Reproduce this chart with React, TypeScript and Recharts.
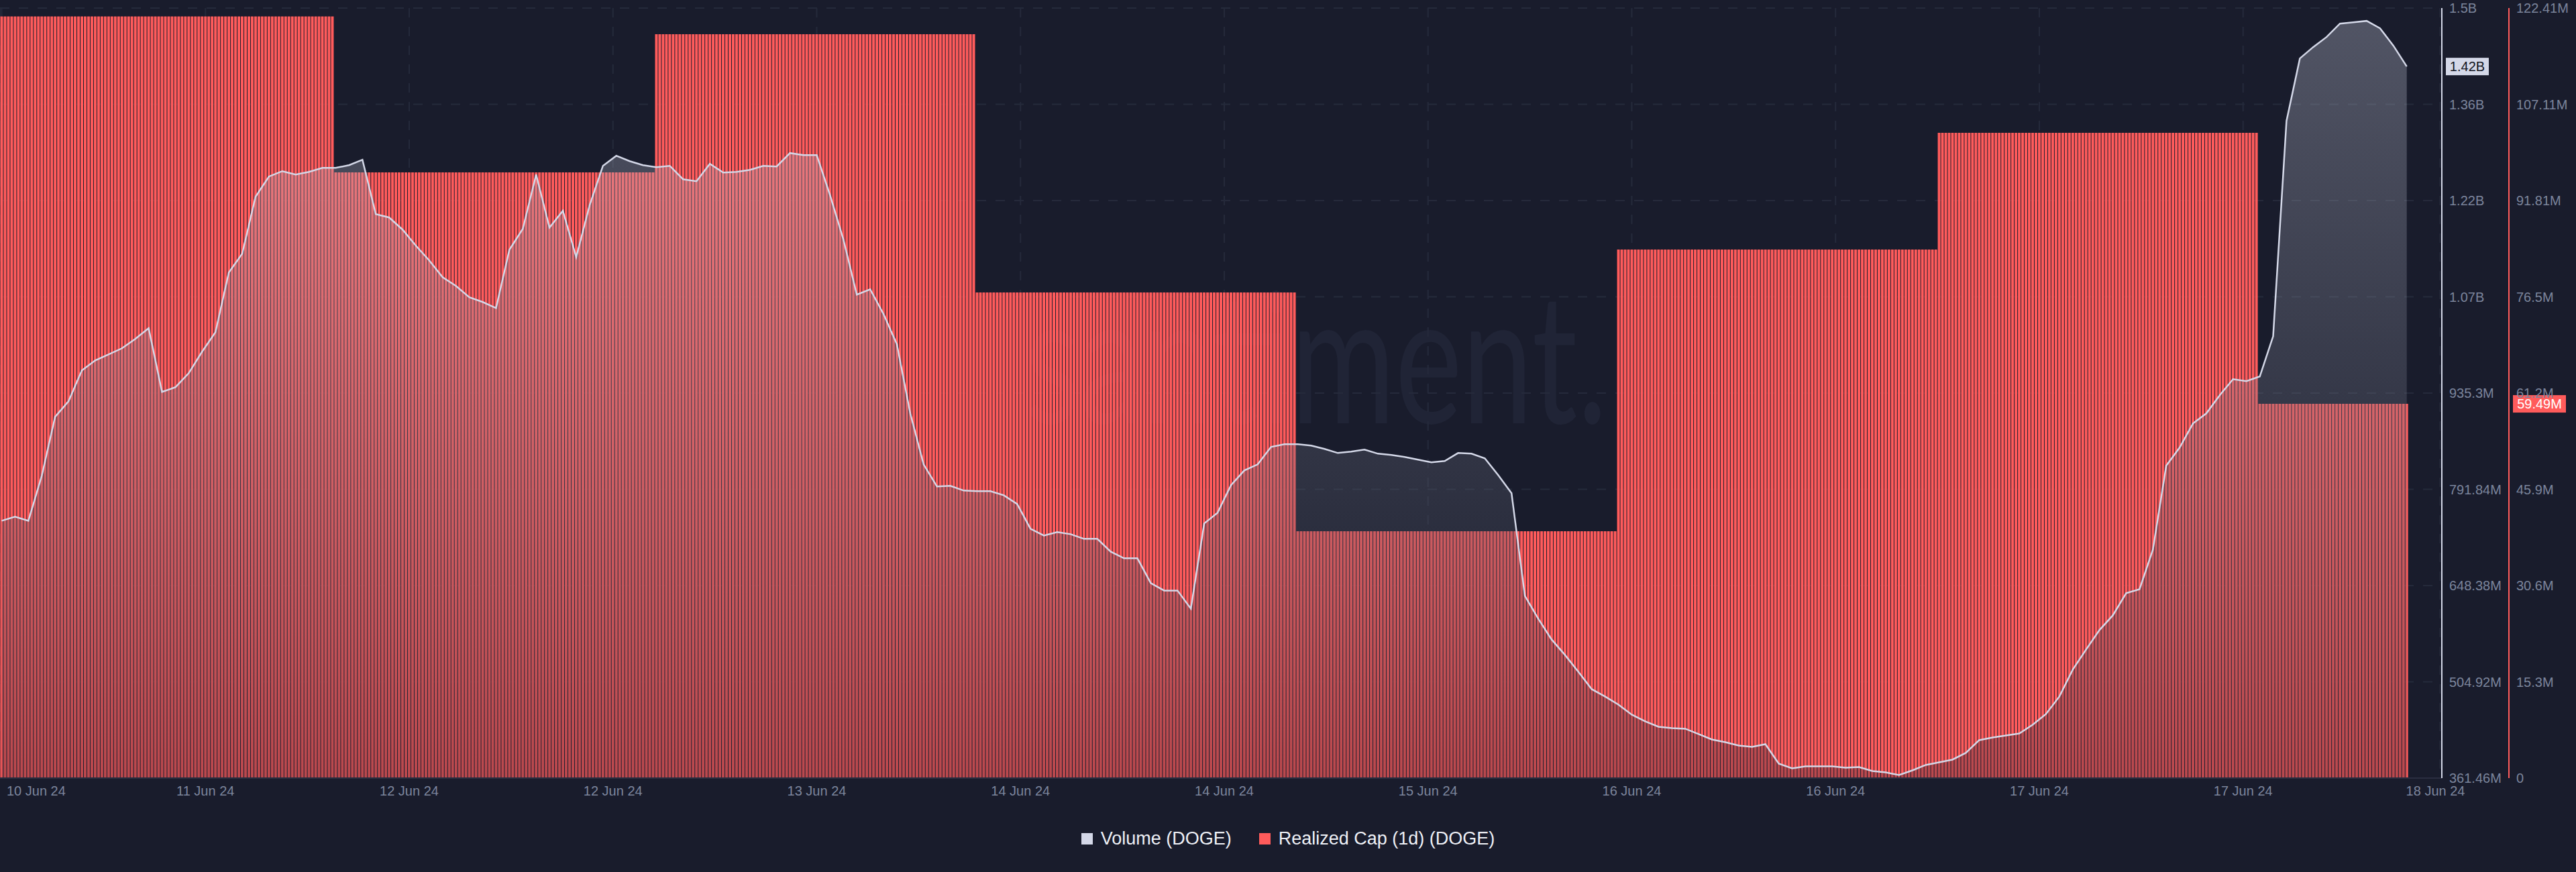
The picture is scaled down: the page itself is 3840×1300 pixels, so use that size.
import React from "react";
import {
  Area,
  Bar,
  CartesianGrid,
  ComposedChart,
  Legend,
  ReferenceLine,
  XAxis,
  YAxis,
} from "recharts";

// Santiment dark theme
const BG = "#191c2c";
const VOLUME_COLOR = "#d4d8e8";
const CAP_COLOR = "#ff5b5b";
const TICK_COLOR = "#7c859c";
const GRID_COLOR = "#252a3b";
const FONT = "'Liberation Sans', Arial, sans-serif";

// axis ids: right axes are stacked outwards in id order, volume sits next to the plot
const VOL_AXIS = "a-volume";
const CAP_AXIS = "b-cap";

// Realized Cap (1d) in DOGE, one value per daily bucket
const CAP_DAILY = [121.08, 96.29, 118.25, 77.2, 39.24, 84.02, 102.58, 59.49];
// how many 15-minute bars each bucket covers
const CAP_BARS = [100, 96, 96, 96, 96, 96, 96, 45];
// empty slots kept at the right edge of the x axis
const EMPTY_SLOTS = 10;

// Volume (DOGE), millions, one reading per hour
const VOLUME_HOURLY = [
  745, 751, 745, 812, 900, 923, 969, 984, 993, 1002, 1016, 1032, 937, 944, 965, 997, 1026, 1115,
  1143, 1228, 1258, 1266, 1261, 1265, 1271, 1271, 1275, 1283, 1202, 1197, 1179, 1155, 1133, 1108,
  1095, 1078, 1071, 1062, 1149, 1180, 1261, 1182, 1207, 1138, 1215, 1274, 1289, 1281, 1275, 1272,
  1274, 1254, 1251, 1277, 1264, 1265, 1268, 1274, 1273, 1293, 1290, 1290, 1230, 1164, 1082, 1090,
  1053, 1008, 905, 829, 796, 797, 790, 789, 789, 783, 770, 733, 723, 728, 725, 718, 718, 699, 689,
  689, 652, 641, 641, 614, 741, 757, 798, 820, 829, 855, 859, 859, 857, 852, 846, 848, 851, 845,
  843, 840, 836, 832, 834, 846, 845, 838, 813, 786, 633, 599, 568, 545, 520, 494, 483, 471, 456,
  446, 438, 436, 435, 427, 419, 415, 410, 408, 412, 383, 376, 379, 379, 379, 377, 378, 372, 370,
  366, 373, 381, 385, 389, 399, 418, 422, 425, 428, 441, 457, 483, 523, 553, 582, 604, 637, 643,
  702, 827, 854, 890, 905, 932, 956, 953, 960, 1020, 1341, 1434, 1451, 1466, 1486, 1488, 1490,
  1479, 1453, 1422,
];

const VOL_TICKS = [361.46, 504.92, 648.38, 791.84, 935.3, 1078.76, 1222.22, 1365.68, 1509.14];
const VOL_LABELS = ["361.46M", "504.92M", "648.38M", "791.84M", "935.3M", "1.07B", "1.22B", "1.36B", "1.5B"];
const CAP_TICKS = [0, 15.3, 30.6, 45.9, 61.2, 76.5, 91.81, 107.11, 122.41];
const CAP_LABELS = ["0", "15.3M", "30.6M", "45.9M", "61.2M", "76.5M", "91.81M", "107.11M", "122.41M"];

const DATE_TICK_IDX = [0, 61, 122, 183, 244, 305, 366, 427, 488, 549, 610, 671, 730];
const DATE_LABELS = [
  "10 Jun 24", "11 Jun 24", "12 Jun 24", "12 Jun 24", "13 Jun 24", "14 Jun 24", "14 Jun 24",
  "15 Jun 24", "16 Jun 24", "16 Jun 24", "17 Jun 24", "17 Jun 24", "18 Jun 24",
];

const M = 1e6;

type Row = { i: number; cap: number | null; volume: number | null };

const rows: Row[] = [];
CAP_DAILY.forEach((cap, d) => {
  for (let k = 0; k < CAP_BARS[d]; k++) rows.push({ i: rows.length, cap: cap * M, volume: null });
});
for (let k = 0; k < EMPTY_SLOTS; k++) rows.push({ i: rows.length, cap: null, volume: null });
rows.forEach((r) => {
  const h = r.i / 4;
  if (r.i % 4 === 0 && h < VOLUME_HOURLY.length) r.volume = VOLUME_HOURLY[h] * M;
});

const lastVolume = VOLUME_HOURLY[VOLUME_HOURLY.length - 1] * M;
const lastCap = CAP_DAILY[CAP_DAILY.length - 1] * M;

function fmt(v: number) {
  if (v >= 1e9) return `${(v / 1e9).toFixed(2)}B`;
  return `${(v / 1e6).toFixed(2)}M`;
}

function YTick({ x, y, payload, labels, ticks }: any) {
  const idx = ticks.findIndex((t: number) => Math.abs(t * M - payload.value) < 1);
  return (
    <text x={x} y={y} dy="0.355em" textAnchor="start" fill={TICK_COLOR} fontSize={20} fontFamily={FONT}>
      {labels[idx] ?? ""}
    </text>
  );
}

function DateTick({ x, y, payload }: any) {
  const idx = DATE_TICK_IDX.indexOf(payload.value);
  const first = idx === 0;
  const last = idx === DATE_TICK_IDX.length - 1;
  return (
    <text
      x={first ? x + 7.5 : last ? x - 7 : x}
      y={y}
      dy="0.71em"
      textAnchor={first ? "start" : "middle"}
      fill={TICK_COLOR}
      fontSize={20}
      fontFamily={FONT}
    >
      {DATE_LABELS[idx]}
    </text>
  );
}

// last-value marker drawn next to its axis; `shift` is the distance from the plot's right edge
function ValueBadge({ viewBox, value, shift, w, fill, color }: any) {
  if (!viewBox) return null;
  const left = viewBox.x + viewBox.width + shift;
  const y = viewBox.y;
  return (
    <g>
      <rect x={left} y={y - 13} width={w} height={26} fill={fill} />
      <text
        x={left + w / 2}
        y={y}
        dy="0.355em"
        textAnchor="middle"
        fill={color}
        fontSize={20}
        fontWeight={500}
        fontFamily={FONT}
      >
        {fmt(value)}
      </text>
    </g>
  );
}

function LegendBox() {
  const item = (color: string, text: string) => (
    <div style={{ display: "flex", alignItems: "center" }}>
      <div style={{ width: 17, height: 17, background: color, marginRight: 12 }} />
      <span style={{ color: "#eef0f6", fontSize: 27, fontFamily: FONT }}>{text}</span>
    </div>
  );
  return (
    <div style={{ height: 60, display: "flex", justifyContent: "center", alignItems: "center", gap: 41 }}>
      {item(VOLUME_COLOR, "Volume (DOGE)")}
      {item(CAP_COLOR, "Realized Cap (1d) (DOGE)")}
    </div>
  );
}

export default function App() {
  return (
    <div
      style={{
        position: "absolute",
        left: 0,
        top: 0,
        width: 3840,
        height: 1300,
        background: BG,
        overflow: "hidden",
      }}
    >
      {/* watermark sits behind the bars */}
      <svg width={3840} height={1300} style={{ position: "absolute", left: 0, top: 0 }}>
        <text
          transform="translate(2396,631) scale(0.7,1)"
          textAnchor="end"
          fill="#202436"
          fontSize={270}
          fontWeight={400}
          fontFamily="Lato, 'Open Sans', sans-serif"
        >
          santiment.
        </text>
      </svg>
      <div style={{ position: "absolute", left: 0, top: 0 }}>
        <ComposedChart
          width={3840}
          height={1300}
          data={rows}
          margin={{ top: 12, right: 0, bottom: 20, left: 0 }}
          barCategoryGap="10%"
        >
          <defs>
            <linearGradient id="volFill" x1="0" y1="0" x2="0" y2="1">
              <stop offset="0%" stopColor={VOLUME_COLOR} stopOpacity={0.3} />
              <stop offset="100%" stopColor={BG} stopOpacity={0.3} />
            </linearGradient>
          </defs>
          <CartesianGrid yAxisId={VOL_AXIS} stroke={GRID_COLOR} strokeWidth={2} strokeDasharray="14 14" />
          <XAxis
            dataKey="i"
            ticks={DATE_TICK_IDX}
            interval={0}
            height={60}
            tickLine={false}
            tickMargin={6}
            axisLine={{ stroke: "#2a2e40", strokeWidth: 2 }}
            tick={<DateTick />}
          />
          <YAxis
            yAxisId={VOL_AXIS}
            orientation="right"
            width={100}
            domain={[VOL_TICKS[0] * M, VOL_TICKS[VOL_TICKS.length - 1] * M]}
            ticks={VOL_TICKS.map((t) => t * M)}
            interval={0}
            allowDataOverflow
            tickLine={false}
            tickMargin={5}
            axisLine={{ stroke: VOLUME_COLOR, strokeWidth: 2 }}
            tick={<YTick labels={VOL_LABELS} ticks={VOL_TICKS} />}
          />
          <YAxis
            yAxisId={CAP_AXIS}
            orientation="right"
            width={100}
            domain={[0, CAP_TICKS[CAP_TICKS.length - 1] * M]}
            ticks={CAP_TICKS.map((t) => t * M)}
            interval={0}
            allowDataOverflow
            tickLine={false}
            tickMargin={5}
            axisLine={{ stroke: CAP_COLOR, strokeWidth: 2 }}
            tick={<YTick labels={CAP_LABELS} ticks={CAP_TICKS} />}
          />
          <Legend verticalAlign="bottom" content={<LegendBox />} />
          <Bar yAxisId={CAP_AXIS} dataKey="cap" fill={CAP_COLOR} isAnimationActive={false} />
          <Area
            yAxisId={VOL_AXIS}
            type="linear"
            dataKey="volume"
            stroke={VOLUME_COLOR}
            strokeWidth={2.5}
            fill="url(#volFill)"
            fillOpacity={1}
            connectNulls
            dot={false}
            activeDot={false}
            isAnimationActive={false}
            zIndex={350}
          />
          <ReferenceLine
            yAxisId={VOL_AXIS}
            y={lastVolume}
            stroke="none"
            label={<ValueBadge value={lastVolume} shift={6} w={64} fill={VOLUME_COLOR} color="#111420" />}
          />
          <ReferenceLine
            yAxisId={CAP_AXIS}
            y={lastCap}
            stroke="none"
            label={<ValueBadge value={lastCap} shift={106} w={79} fill={CAP_COLOR} color="#ffffff" />}
          />
        </ComposedChart>
      </div>
    </div>
  );
}
